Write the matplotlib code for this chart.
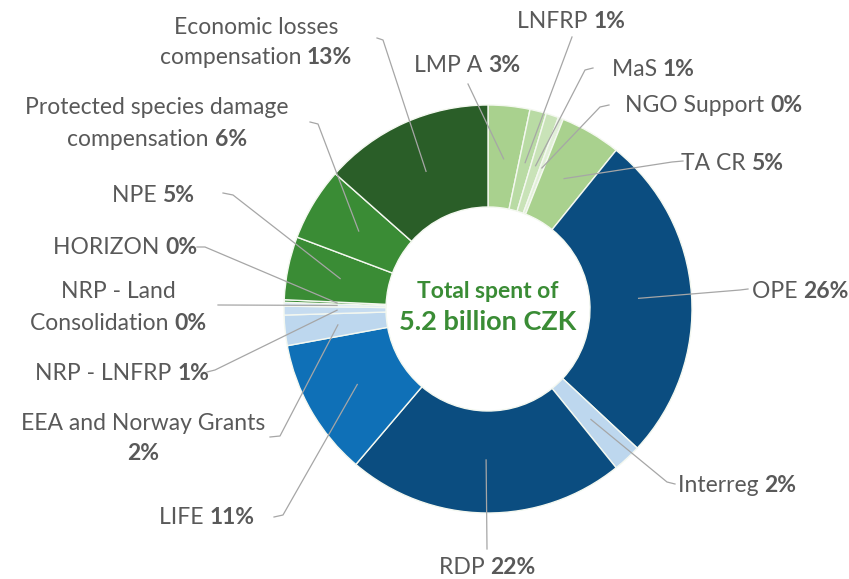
import matplotlib
matplotlib.use("Agg")
import matplotlib.pyplot as plt
import numpy as np

# Funding sources, clockwise from 12 o'clock
labels = ["LMP A", "LNFRP", "MaS", "NGO Support", "TA CR", "OPE", "Interreg", "RDP",
          "LIFE", "EEA and Norway Grants\n", "NRP - LNFRP", "NRP - Land\nConsolidation",
          "HORIZON", "NPE", "Protected species damage\ncompensation",
          "Economic losses\ncompensation"]
shares = [3.3, 1.3, 1.0, 0.4, 4.8, 26.1, 2.25, 22.0,
          10.9, 2.4, 0.7, 0.3, 0.2, 5.0, 5.8, 13.45]
pct_labels = ["3%", "1%", "1%", "0%", "5%", "26%", "2%", "22%",
              "11%", "2%", "1%", "0%", "0%", "5%", "6%", "13%"]
total_text = "Total spent of"
total_value = "5.2 billion CZK"

colors = ["#a9d18e", "#b9dba4", "#c9e3b8", "#e2f0d9", "#a9d18e", "#0b4d80", "#bdd7ee",
          "#0b4d80", "#0f70b7", "#bdd7ee", "#c6dcf0", "#deebf7", "#3a8c35", "#3a8c35",
          "#3a8c35", "#2a5e28"]

W, H = 849, 579
plt.rcParams['font.family'] = ['Lato', 'DejaVu Sans']
text_color = "#595959"
line_color = "#a6a6a6"
green = "#3a8c35"
fs = 16.5

fig = plt.figure(figsize=(W / 100, H / 100), dpi=100)
ax = fig.add_axes([0, 0, 1, 1])

cx, cy, R = 488, H - 309, 204
wedges, _ = ax.pie(shares, colors=colors, startangle=90, counterclock=False,
                   radius=R, center=(cx, cy),
                   wedgeprops=dict(width=102, edgecolor="#f4f8f0", linewidth=1.0))
ax.set_xlim(0, W)
ax.set_ylim(0, H)
ax.set_aspect("equal")
ax.axis("off")

# label centre (x, first line y) and leader path near the label, in pixels from top-left
layout = [
    ((467, 65), [(468, 84)]),
    ((571, 22), [(572, 37)]),
    ((653, 70), [(593, 68), (585, 70)]),
    ((714, 105), [(609, 105), (600, 107)]),
    ((732, 164), [(683, 161), (672, 162)]),
    ((800, 291), [(748, 289), (740, 290)]),
    ((737, 485), [(675, 484), (667, 482)]),
    ((487, 567), [(487, 549)]),
    ((207, 517), [(274, 517), (283, 515)]),
    ((143, 423), [(270, 437), (280, 436)]),
    ((122, 373), [(207, 372), (215, 370)]),
    ((118, 292), [(218, 305)]),
    ((125, 248), [(197, 247), (205, 247)]),
    ((153, 195), [(223, 193), (233, 195)]),
    ((157, 108), [(310, 122), (318, 124)]),
    ((256, 27), [(377, 38), (383, 40)]),
]
line_gap = 31

renderer = fig.canvas.get_renderer()


def text_width(s, weight):
    t = ax.text(0, 0, s, fontsize=fs, fontweight=weight)
    w = t.get_window_extent(renderer).width
    t.remove()
    return w


for i, (name, pct) in enumerate(zip(labels, pct_labels)):
    (lx, ly), path = layout[i]
    lines = name.split("\n")
    for j, ln in enumerate(lines):
        last = j == len(lines) - 1
        parts = [(ln, "normal")]
        if last:
            if ln == "":
                parts = [(pct, "bold")]
            else:
                parts = [(ln + " ", "normal"), (pct, "bold")]
        widths = [text_width(p, w) for p, w in parts]
        x0 = lx - sum(widths) / 2
        yy = H - (ly + j * line_gap)
        for (p, w), wd in zip(parts, widths):
            ax.text(x0, yy, p, fontsize=fs, fontweight=w, color=text_color,
                    ha="left", va="center")
            x0 += wd

    # leader line ends inside the wedge
    wdg = wedges[i]
    mid = np.deg2rad((wdg.theta1 + wdg.theta2) / 2)
    ex, ey = cx + 0.74 * R * np.cos(mid), cy + 0.74 * R * np.sin(mid)
    xs = [p[0] for p in path] + [ex]
    ys = [H - p[1] for p in path] + [ey]
    ax.plot(xs, ys, color=line_color, linewidth=0.9, zorder=3)

ax.text(cx, H - 291, total_text, fontsize=16.5, fontweight="bold", color=green,
        ha="center", va="center")
ax.text(cx, H - 322, total_value, fontsize=19.5, fontweight="bold", color=green,
        ha="center", va="center")

fig.savefig("out.png", dpi=100)
